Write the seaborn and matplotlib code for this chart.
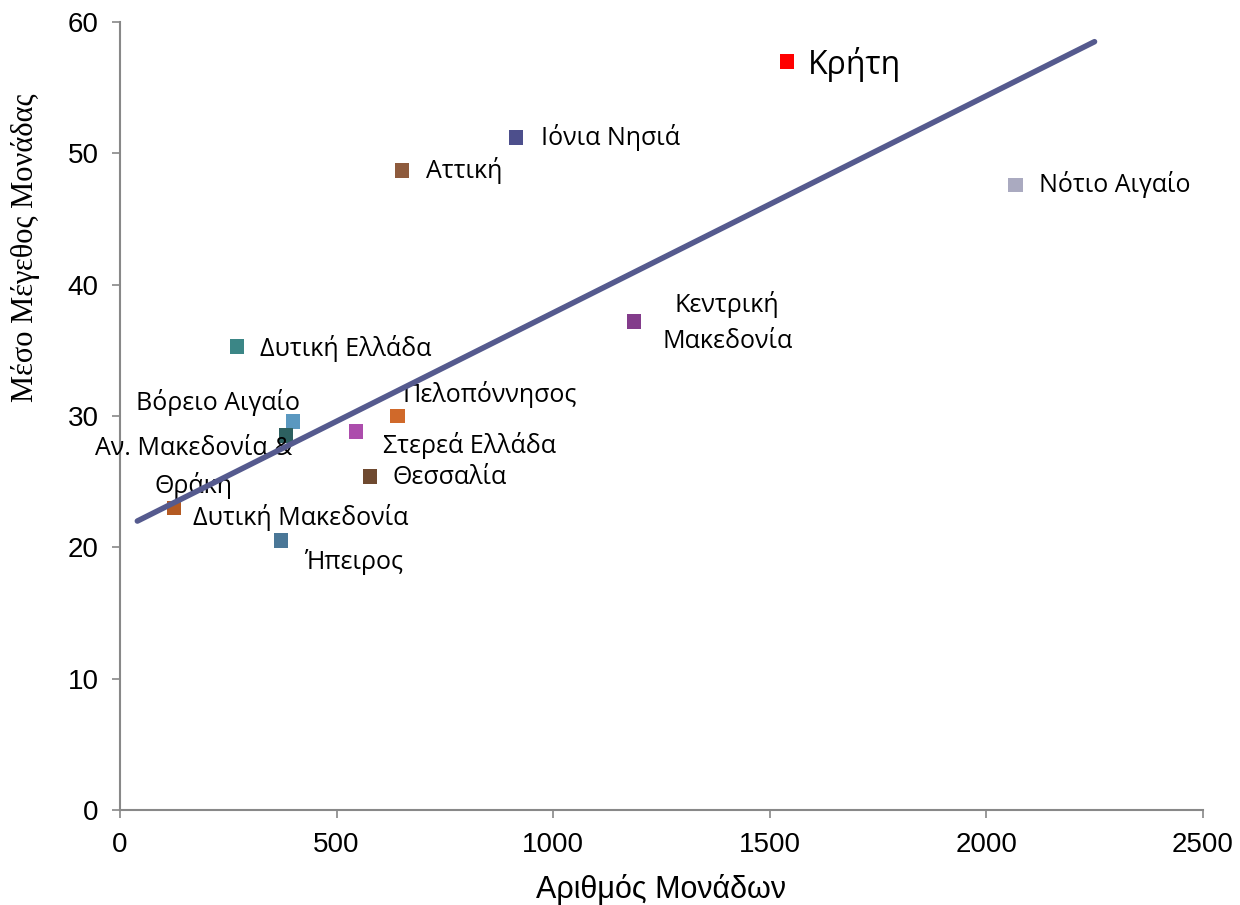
import matplotlib
matplotlib.use('Agg')
import matplotlib.pyplot as plt
import seaborn as sns
import pandas as pd

regions = ['Κρήτη', 'Ιόνια Νησιά', 'Αττική', 'Νότιο Αιγαίο', 'Κεντρική\nΜακεδονία',
           'Δυτική Ελλάδα', 'Βόρειο Αιγαίο', 'Πελοπόννησος', 'Αν. Μακεδονία &\nΘράκη',
           'Στερεά Ελλάδα', 'Θεσσαλία', 'Δυτική Μακεδονία', 'Ήπειρος']
units = [1540, 914, 651, 2068, 1187, 270, 399, 640, 383, 545, 577, 125, 372]
mean_size = [57.0, 51.2, 48.7, 47.6, 37.2, 35.3, 29.6, 30.0, 28.5, 28.8, 25.4, 23.0, 20.5]

# trendline as drawn in the original (end points)
trend_x = [40, 2250]
trend_y = [22.0, 58.5]

colors = ['#FF0000', '#4D4F8C', '#8E5B3D', '#AAAAC0', '#833C8B', '#3B8686', '#5A98C0',
          '#D0692A', '#2D6060', '#AC4DAC', '#6F4A30', '#B45A22', '#4A7797']

# label placement: (dx px, dy px, ha)
label_pos = {
    'Κρήτη': (21, -3, 'left'),
    'Ιόνια Νησιά': (25, 0, 'left'),
    'Αττική': (24, 0, 'left'),
    'Νότιο Αιγαίο': (23, 0, 'left'),
    'Κεντρική\nΜακεδονία': (93, -1, 'center'),
    'Δυτική Ελλάδα': (23, -2, 'left'),
    'Βόρειο Αιγαίο': (7, 19, 'right'),
    'Πελοπόννησος': (5, 21, 'left'),
    'Αν. Μακεδονία &\nΘράκη': (-92, -32, 'center'),
    'Στερεά Ελλάδα': (27, -14, 'left'),
    'Θεσσαλία': (23, -1, 'left'),
    'Δυτική Μακεδονία': (19, -10, 'left'),
    'Ήπειρος': (23, -21, 'left'),
}

df = pd.DataFrame({'region': regions, 'units': units, 'mean_size': mean_size})
trend = pd.DataFrame({'x': trend_x, 'y': trend_y})

sns.set_style('white')
plt.rcParams['font.family'] = ['Liberation Sans', 'DejaVu Sans']

fig, ax = plt.subplots(figsize=(12.4, 9.05), dpi=100)
fig.subplots_adjust(left=0.0968, right=0.970, top=0.9757, bottom=0.105)

sns.scatterplot(data=df, x='units', y='mean_size', hue='region',
                palette=dict(zip(regions, colors)), marker='s', s=110,
                linewidth=0, legend=False, ax=ax, zorder=2)
sns.lineplot(data=trend, x='x', y='y', color='#555A8E', linewidth=4, ax=ax, zorder=4)

for r, x, y in zip(regions, units, mean_size):
    dx, dy, ha = label_pos[r]
    fs = 23 if r == 'Κρήτη' else 18
    ax.annotate(r, (x, y), xytext=(dx, dy), textcoords='offset pixels',
                ha=ha, va='center', fontsize=fs, family=['Open Sans', 'DejaVu Sans'],
                linespacing=1.55, color='black', zorder=3)

ax.set_xlim(0, 2500)
ax.set_ylim(0, 60)
ax.set_xticks([0, 500, 1000, 1500, 2000, 2500])
ax.set_yticks([0, 10, 20, 30, 40, 50, 60])
ax.tick_params(axis='both', labelsize=20, length=5.5, width=1.2, color='#888888',
               labelcolor='black', direction='out', left=True, bottom=True, pad=10)
ax.set_xlabel('Αριθμός Μονάδων', fontsize=22, labelpad=12, color='black')
ax.set_ylabel('Μέσο Μέγεθος Μονάδας', fontsize=22, color='black',
              family=['Liberation Serif', 'DejaVu Serif'])
ax.yaxis.set_label_coords(-0.074, 0.713)

sns.despine(ax=ax)
for side in ['left', 'bottom']:
    ax.spines[side].set_color('#888888')
    ax.spines[side].set_linewidth(1.5)

plt.savefig('out.png', dpi=100)
plt.close()
